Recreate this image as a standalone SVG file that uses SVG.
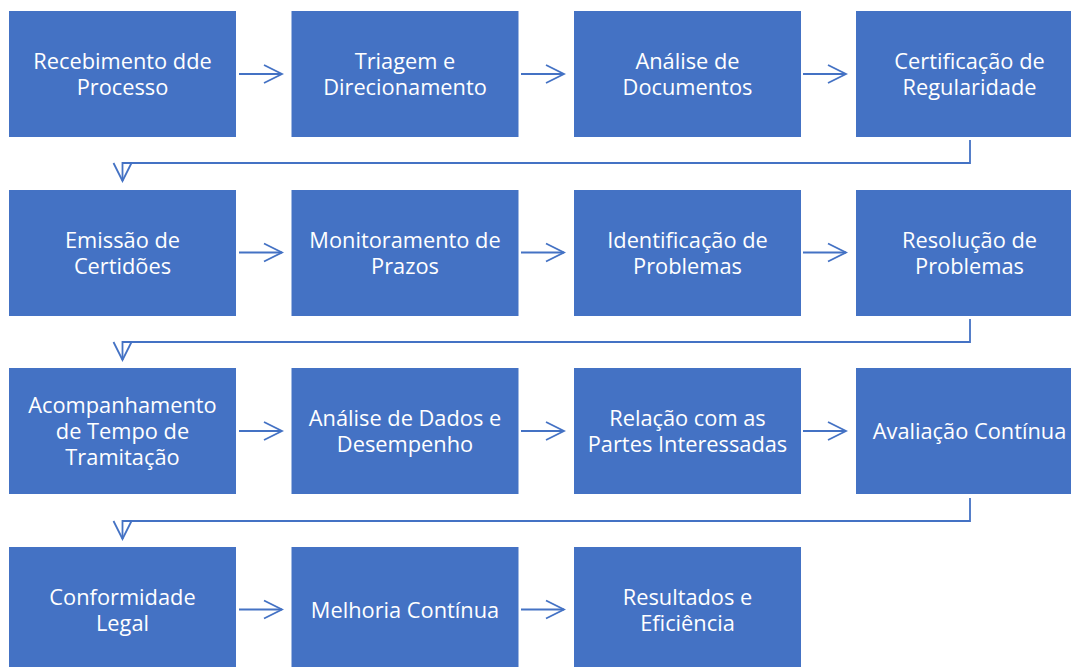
<svg xmlns="http://www.w3.org/2000/svg" width="1071" height="667" viewBox="0 0 1071 667">
<style>
.box{fill:#4472C4}
.lbl{font-family:"Open Sans","Liberation Sans",sans-serif;font-size:21.8px;fill:#FFFFFF;text-anchor:middle}
.con{fill:none;stroke:#4472C4;stroke-width:1.8;marker-end:url(#arr)}
</style>
<defs>
<marker id="arr" markerUnits="userSpaceOnUse" markerWidth="22" markerHeight="22" viewBox="0 0 22 22" refX="20" refY="11" orient="auto">
<path d="M2,2 L20,11 L2,20" fill="none" stroke="#4472C4" stroke-width="1.8"/>
</marker>
</defs>
<rect width="1071" height="667" fill="#FFFFFF"/>
<g id="connectors">
<path class="con" d="M239,74 H282"/>
<path class="con" d="M521,74 H564"/>
<path class="con" d="M803,74 H846"/>
<path class="con" d="M970,140 V163 H122.5 V181"/>
<path class="con" d="M239,252.5 H282"/>
<path class="con" d="M521,252.5 H564"/>
<path class="con" d="M803,252.5 H846"/>
<path class="con" d="M970,319 V342 H122.5 V360"/>
<path class="con" d="M239,431 H282"/>
<path class="con" d="M521,431 H564"/>
<path class="con" d="M803,431 H846"/>
<path class="con" d="M970,498 V521 H122.5 V539"/>
<path class="con" d="M239,609.5 H282"/>
<path class="con" d="M521,609.5 H564"/>
</g>
<g id="n1"><rect class="box" x="9" y="11" width="227" height="126"/><text class="lbl" x="122.5" y="69">Recebimento dde<tspan x="122.5" dy="26">Processo</tspan></text></g>
<g id="n2"><rect class="box" x="291.5" y="11" width="227" height="126"/><text class="lbl" x="405" y="69">Triagem e<tspan x="405" dy="26">Direcionamento</tspan></text></g>
<g id="n3"><rect class="box" x="574" y="11" width="227" height="126"/><text class="lbl" x="687.5" y="69">Análise de<tspan x="687.5" dy="26">Documentos</tspan></text></g>
<g id="n4"><rect class="box" x="856" y="11" width="227" height="126"/><text class="lbl" x="969.5" y="69">Certificação de<tspan x="969.5" dy="26">Regularidade</tspan></text></g>
<g id="n5"><rect class="box" x="9" y="190" width="227" height="126"/><text class="lbl" x="122.5" y="248">Emissão de<tspan x="122.5" dy="26">Certidões</tspan></text></g>
<g id="n6"><rect class="box" x="291.5" y="190" width="227" height="126"/><text class="lbl" x="405" y="248">Monitoramento de<tspan x="405" dy="26">Prazos</tspan></text></g>
<g id="n7"><rect class="box" x="574" y="190" width="227" height="126"/><text class="lbl" x="687.5" y="248">Identificação de<tspan x="687.5" dy="26">Problemas</tspan></text></g>
<g id="n8"><rect class="box" x="856" y="190" width="227" height="126"/><text class="lbl" x="969.5" y="248">Resolução de<tspan x="969.5" dy="26">Problemas</tspan></text></g>
<g id="n9"><rect class="box" x="9" y="368" width="227" height="126"/><text class="lbl" x="122.5" y="413">Acompanhamento<tspan x="122.5" dy="26">de Tempo de</tspan><tspan x="122.5" dy="26">Tramitação</tspan></text></g>
<g id="n10"><rect class="box" x="291.5" y="368" width="227" height="126"/><text class="lbl" x="405" y="426">Análise de Dados e<tspan x="405" dy="26">Desempenho</tspan></text></g>
<g id="n11"><rect class="box" x="574" y="368" width="227" height="126"/><text class="lbl" x="687.5" y="426">Relação com as<tspan x="687.5" dy="26">Partes Interessadas</tspan></text></g>
<g id="n12"><rect class="box" x="856" y="368" width="227" height="126"/><text class="lbl" x="969.5" y="439">Avaliação Contínua</text></g>
<g id="n13"><rect class="box" x="9" y="547" width="227" height="126"/><text class="lbl" x="122.5" y="605">Conformidade<tspan x="122.5" dy="26">Legal</tspan></text></g>
<g id="n14"><rect class="box" x="291.5" y="547" width="227" height="126"/><text class="lbl" x="405" y="618">Melhoria Contínua</text></g>
<g id="n15"><rect class="box" x="574" y="547" width="227" height="126"/><text class="lbl" x="687.5" y="605">Resultados e<tspan x="687.5" dy="26">Eficiência</tspan></text></g>
</svg>
